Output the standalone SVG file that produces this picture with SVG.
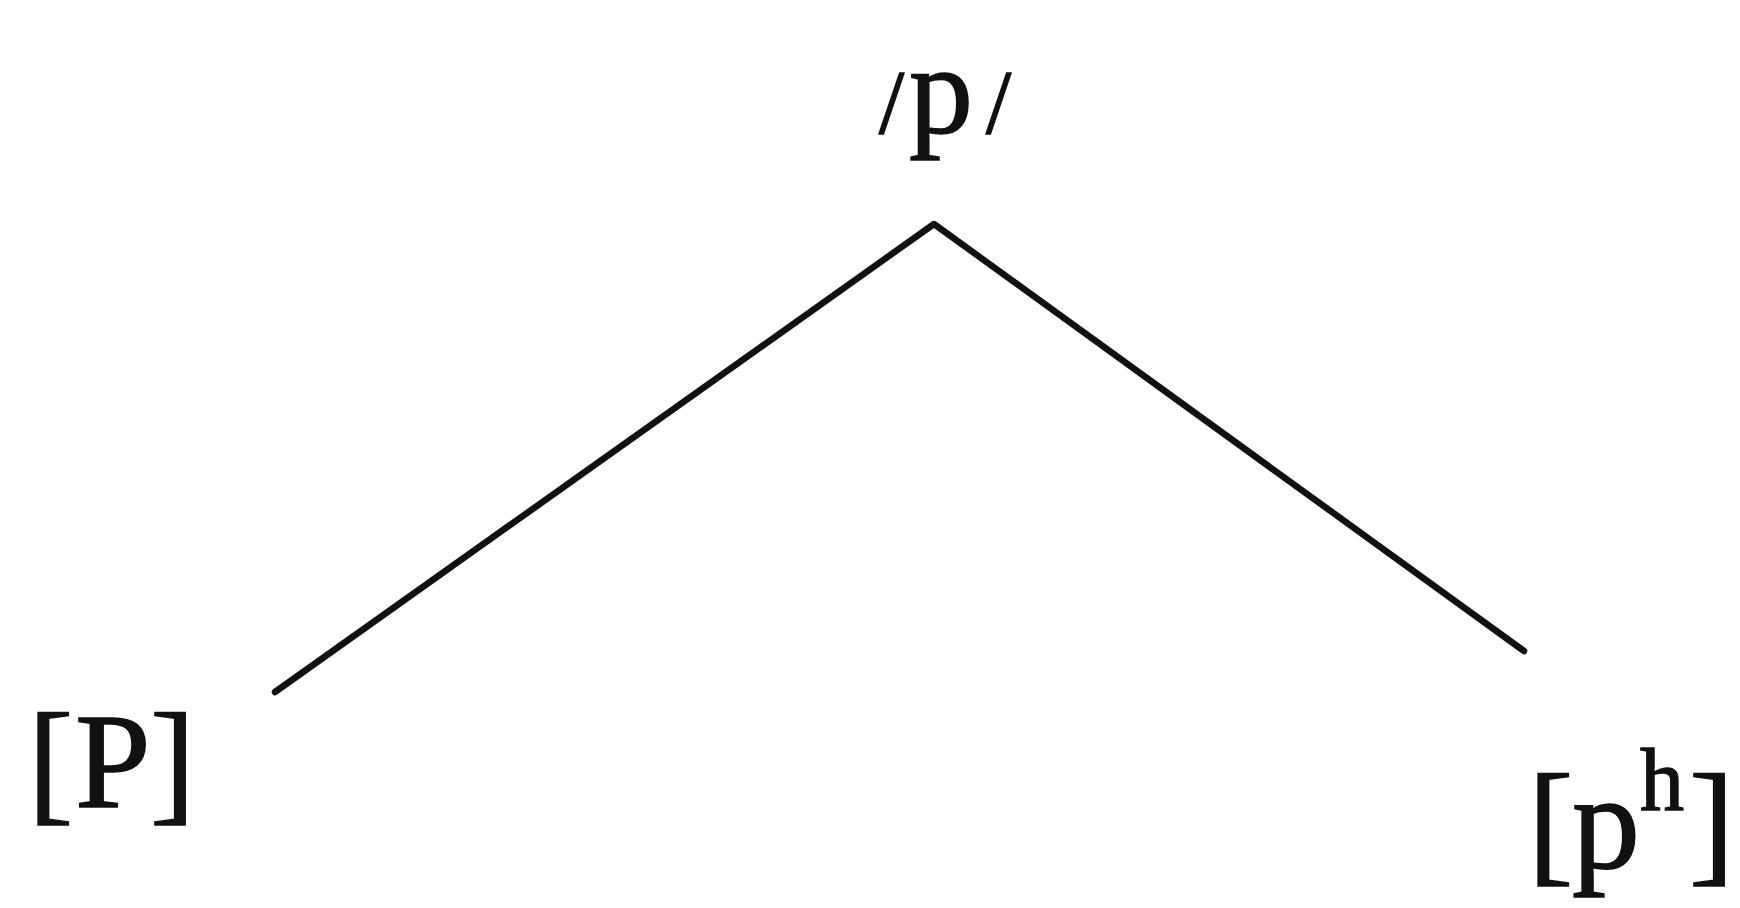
<svg xmlns="http://www.w3.org/2000/svg" width="1740" height="908" viewBox="0 0 1740 908">
<style>
.lbl{font-family:"Liberation Serif","DejaVu Serif",serif;fill:#111;stroke:#111;stroke-width:1.5}
.edge{stroke:#111;stroke-width:6.5;fill:none;stroke-linecap:round;stroke-linejoin:round}
</style>
<rect width="1740" height="908" fill="#fff"/>
<g id="connectors">
<polyline class="edge" points="275,692 934,224 1524,651"/>
</g>
<g id="node-top">
<text class="lbl" y="133"><tspan x="879" font-size="90">/</tspan><tspan x="909" font-size="128">p</tspan><tspan x="986" font-size="90">/</tspan></text>
</g>
<g id="node-left">
<text class="lbl" y="807" font-size="136"><tspan x="28">[</tspan><tspan x="75">P</tspan><tspan x="150">]</tspan></text>
</g>
<g id="node-right">
<text class="lbl" font-size="136"><tspan x="1528" y="868">[</tspan><tspan x="1572" y="868">p</tspan><tspan x="1640" y="810" font-size="88">h</tspan><tspan x="1689" y="868">]</tspan></text>
</g>
</svg>
